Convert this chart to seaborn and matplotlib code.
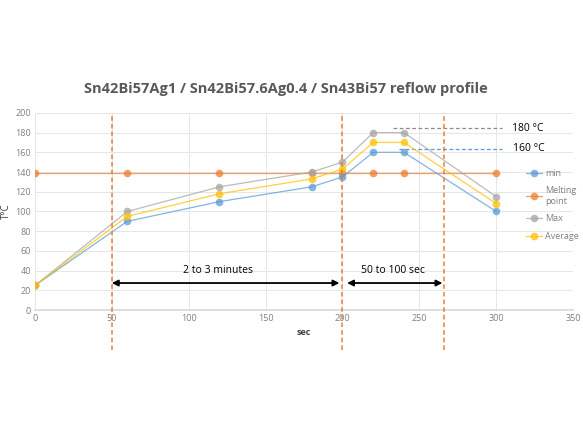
import matplotlib
matplotlib.use("Agg")
import matplotlib.pyplot as plt
import seaborn as sns
import pandas as pd

time_s = [0, 60, 120, 180, 200, 220, 240, 300]
t_min = [25, 90, 110, 125, 135, 160, 160, 100]
t_melt = [139, 139, 139, 139, 139, 139, 139, 139]
t_max = [25, 100, 125, 140, 150, 180, 180, 115]
t_avg = [25, 95, 118, 133, 143, 170, 170, 108]
series_names = ["min", "Melting\npoint", "Max", "Average"]
colors = ["#5B9BD5", "#ED7D31", "#A5A5A5", "#FFC000"]

sns.set_theme(style="white")
plt.rcParams['font.family'] = ['Open Sans', 'DejaVu Sans']

fig = plt.figure(figsize=(5.83, 4.29), dpi=100)
ax = fig.add_axes([0.060, 0.277, 0.923, 0.460])

df = pd.DataFrame({
    "sec": time_s * 4,
    "T": t_min + t_melt + t_max + t_avg,
    "series": sum([[n] * len(time_s) for n in series_names], []),
})
order = ["Melting\npoint", "min", "Max", "Average"]
for name in order:
    i = series_names.index(name)
    sub = df[df.series == name]
    sns.lineplot(data=sub, x="sec", y="T", ax=ax, color=colors[i], lw=0.9,
                 alpha=0.75, marker="o", markersize=5.5, markeredgewidth=0,
                 label=None, zorder=3)

ax.set_xlim(0, 350)
ax.set_ylim(0, 200)
ax.set_xticks(range(0, 351, 50))
ax.set_yticks(range(0, 201, 20))
ax.grid(True, color="#E6E6E6", lw=0.7)
for s in ["top", "right", "left"]:
    ax.spines[s].set_visible(False)
ax.spines["bottom"].set_color("#D9D9D9")
ax.tick_params(axis="both", labelsize=6.5, colors="#7F7F7F", length=0, pad=3)
ax.set_xlabel("sec", fontsize=6.5, fontweight="bold", color="#404040", labelpad=3)
ax.set_ylabel("T°C", fontsize=7, color="#404040", labelpad=2)

fig.suptitle("Sn42Bi57Ag1 / Sn42Bi57.6Ag0.4 / Sn43Bi57 reflow profile",
             x=0.49, y=0.81, fontsize=10.5, fontweight="bold", color="#595959")

# Vertical phase markers
for xv in [50, 200, 266]:
    ax.axvline(xv, ymin=-0.2, ymax=1.0, color="#ED7D31", ls=(0, (3, 2)), lw=1.1,
               clip_on=False, zorder=4)

# Arrows
ax.annotate("", xy=(50, 27.5), xytext=(198, 27.5),
            arrowprops=dict(arrowstyle="<|-|>", color="black", lw=1.3,
                            mutation_scale=9, shrinkA=0, shrinkB=0), zorder=5)
ax.annotate("", xy=(203, 27.5), xytext=(265, 27.5),
            arrowprops=dict(arrowstyle="<|-|>", color="black", lw=1.3,
                            mutation_scale=9, shrinkA=0, shrinkB=0), zorder=5)
ax.text(119, 40.5, "2 to 3 minutes", ha="center", va="center", fontsize=7.5, color="black")
ax.text(233, 40.5, "50 to 100 sec", ha="center", va="center", fontsize=7.5, color="black")

# Peak annotations
ax.plot([233, 304], [184.5, 184.5], color="#8C8C8C", ls=(0, (3, 2)), lw=0.9, clip_on=False)
ax.plot([237, 304], [163.5, 163.5], color="#5B9BD5", ls=(0, (3, 2)), lw=0.9, clip_on=False)
ax.text(310, 184.5, "180 °C", ha="left", va="center", fontsize=7.5, color="black")
ax.text(311, 163.5, "160 °C", ha="left", va="center", fontsize=7.5, color="black")

# Legend
from matplotlib.lines import Line2D
handles = [Line2D([], [], color=colors[i], lw=0.9, alpha=0.75, marker="o",
                  markersize=5.5, markeredgewidth=0) for i in range(4)]
leg = ax.legend(handles, series_names, loc="upper left", bbox_to_anchor=(0.905, 0.735),
                frameon=False, fontsize=6.5, handlelength=1.8, handletextpad=0.35,
                labelspacing=0.95, borderaxespad=0)
for t in leg.get_texts():
    t.set_color("#7F7F7F")

fig.savefig("out.png", dpi=100, facecolor="white")
